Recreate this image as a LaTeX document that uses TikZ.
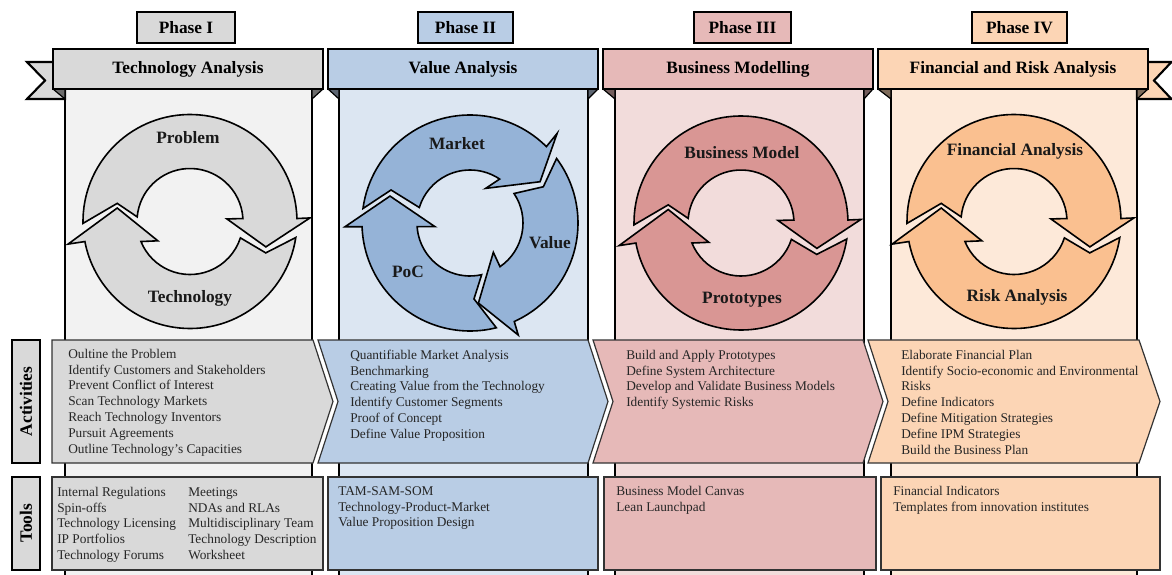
\documentclass[tikz,border=0pt]{standalone}
\usepackage{fontspec}
\setmainfont{Liberation Serif}
\definecolor{grayA}{HTML}{D9D9D9}
\definecolor{grayB}{HTML}{F2F2F2}
\definecolor{grayC}{HTML}{D9D9D9}
\definecolor{blueA}{HTML}{B9CDE5}
\definecolor{blueB}{HTML}{DCE6F2}
\definecolor{blueC}{HTML}{95B3D7}
\definecolor{redA}{HTML}{E6B9B8}
\definecolor{redB}{HTML}{F2DCDB}
\definecolor{redC}{HTML}{D99694}
\definecolor{orA}{HTML}{FCD5B5}
\definecolor{orB}{HTML}{FDE9D9}
\definecolor{orC}{HTML}{FAC090}
\tikzset{
  colline/.style={draw=black, line width=1.6pt},
  banner/.style={draw=black, line width=1.6pt, line join=miter},
  foldtri/.style={draw=black, line width=0.9pt, line join=round},
  phasebox/.style={draw=black, line width=2.2pt},
  cyc/.style={draw=black, line width=1.2pt, line join=miter},
  chev/.style={draw=black!80, line width=0.9pt, line join=miter},
  toolbox/.style={draw=black!80, line width=1pt},
  sidebox/.style={draw=black, line width=2.2pt, fill=grayA},
  hdr/.style={font=\fontsize{13}{15}\selectfont\bfseries, inner sep=0},
  cyclabel/.style={font=\fontsize{13}{15}\selectfont\bfseries, inner sep=0, text=black!90},
  list/.style={font=\fontsize{10}{11.85}\selectfont, align=left, anchor=north west, inner sep=0, text=black!85},
}
% two-arrow cycle: #1 centre, #2 fill
\newcommand{\twocycle}[2]{%
  \begin{scope}[shift={#1}, yscale=-1]
    \draw[cyc, fill=#2] (181:107) arc[start angle=181, end angle=1.6, radius=107]
      -- (1.7:120) -- (-18.5:80) -- (4:37) -- (3.2:53)
      arc[start angle=3.2, end angle=175, radius=53] -- (166:75) -- cycle;
    \draw[cyc, fill=#2] (-8.6:107) arc[start angle=-8.6, end angle=-169.2, radius=107]
      -- (-169.5:124) -- (-190.5:74) -- (-149:37.5) -- (-157.8:53)
      arc[start angle=-157.8, end angle=-18, radius=53] -- (-22.5:82) -- cycle;
  \end{scope}}
\begin{document}
\begin{tikzpicture}[x=0.75pt, y=-0.75pt]
\useasboundingbox (0,0) rectangle (1172,575);

% ---------- column backgrounds ----------
\fill[grayB] (65,89) rectangle (312,577);
\fill[blueB] (339,89) rectangle (588,577);
\fill[redB] (615,89) rectangle (864,577);
\fill[orB] (891,89) rectangle (1137,577);
\draw[colline] (65,89) -- (65,577) (312,89) -- (312,577);
\draw[colline] (339,89) -- (339,577) (588,89) -- (588,577);
\draw[colline] (615,89) -- (615,577) (864,89) -- (864,577);
\draw[colline] (891,89) -- (891,577) (1137,89) -- (1137,577);

% ---------- ribbon tails ----------
\draw[banner, fill=grayA] (53,62) -- (27,62) -- (45,80.5) -- (27,99) -- (65,99) -- (65,89);
\draw[banner, fill=orA] (1148,62) -- (1171.5,62) -- (1154,80.5) -- (1171.5,99) -- (1137,99) -- (1137,89);

% ---------- folds under the banners ----------
\draw[foldtri, fill=grayA!50!black] (53,89) -- (65,89) -- (65,99) -- cycle;
\draw[foldtri, fill=grayA!50!black] (323,89) -- (312,89) -- (312,99) -- cycle;
\draw[foldtri, fill=blueA!50!black] (328,89) -- (339,89) -- (339,99) -- cycle;
\draw[foldtri, fill=blueA!50!black] (598,89) -- (588,89) -- (588,99) -- cycle;
\draw[foldtri, fill=redA!50!black] (603,89) -- (615,89) -- (615,99) -- cycle;
\draw[foldtri, fill=redA!50!black] (873,89) -- (864,89) -- (864,99) -- cycle;
\draw[foldtri, fill=orA!50!black] (878,89) -- (891,89) -- (891,99) -- cycle;
\draw[foldtri, fill=orA!50!black] (1148,89) -- (1137,89) -- (1137,99) -- cycle;

% ---------- banners ----------
\draw[banner, fill=grayA] (53,49) rectangle (323,89);
\draw[banner, fill=blueA] (328,49) rectangle (598,89);
\draw[banner, fill=redA] (603,49) rectangle (873,89);
\draw[banner, fill=orA] (878,49) rectangle (1148,89);
\node[hdr] (h1) at (188,69) {Technology Analysis};
\node[hdr] (h2) at (463,69) {Value Analysis};
\node[hdr] (h3) at (738,69) {Business Modelling};
\node[hdr] (h4) at (1013,69) {Financial and Risk Analysis};

% ---------- phase boxes ----------
\draw[phasebox, fill=grayA] (137,12) rectangle (235,43);
\draw[phasebox, fill=blueA] (418,12) rectangle (513,43);
\draw[phasebox, fill=redA] (694,12) rectangle (791,43);
\draw[phasebox, fill=orA] (972,12) rectangle (1067,43);
\node[hdr] (p1) at (186,28) {Phase I};
\node[hdr] (p2) at (465.5,28) {Phase II};
\node[hdr] (p3) at (742.5,28) {Phase III};
\node[hdr] (p4) at (1019.5,28) {Phase IV};

% ---------- cycles ----------
\twocycle{(190,221.5)}{grayC}
\twocycle{(741,223)}{redC}
\twocycle{(1014,221.5)}{orC}
\begin{scope}[shift={(470,223)}, yscale=-1]
  \draw[cyc, fill=blueC] (172.3:108) arc[start angle=172.3, end angle=45, radius=108]
    -- (45.8:125) -- (30.5:81.3) -- (65.7:38) -- (56:53)
    arc[start angle=56, end angle=163, radius=53] -- (157.3:85.6) -- cycle;
  \draw[cyc, fill=blueC] (36.7:108) arc[start angle=36.7, end angle=-65.8, radius=108]
    -- (-66.7:122) -- (-84:80.5) -- (-51.5:37.5) -- (-55.5:53)
    arc[start angle=-55.5, end angle=33.8, radius=53] -- (26.3:81.8) -- cycle;
  \draw[cyc, fill=blueC] (-75.9:108) arc[start angle=-75.9, end angle=-178, radius=108]
    -- (-178.3:125) -- (-198.6:84.4) -- (-174:35.2) -- (-176:53)
    arc[start angle=-176, end angle=-77.3, radius=53] -- (-87:76) -- cycle;
\end{scope}
\node[cyclabel] (c1a) at (188,138) {Problem};
\node[cyclabel] (c1b) at (190,298) {Technology};
\node[cyclabel] (c2a) at (457,144) {Market};
\node[cyclabel] (c2b) at (550,243) {Value};
\node[cyclabel] (c2c) at (408,272) {PoC};
\node[cyclabel] (c3a) at (742,153) {Business Model};
\node[cyclabel] (c3b) at (742,300) {Prototypes};
\node[cyclabel] (c4a) at (1015,151) {Financial Analysis};
\node[cyclabel] (c4b) at (1017,297) {Risk Analysis};

% ---------- activities ----------
\draw[chev, fill=grayA] (52,340) -- (313,340) -- (333,401.5) -- (313,463) -- (52,463) -- cycle;
\draw[chev, fill=blueA] (318,340) -- (588,340) -- (608,401.5) -- (588,463) -- (318,463) -- (338,401.5) -- cycle;
\draw[chev, fill=redA] (593,340) -- (863,340) -- (883,401.5) -- (863,463) -- (593,463) -- (613,401.5) -- cycle;
\draw[chev, fill=orA] (868,340) -- (1139,340) -- (1160,401.5) -- (1139,463) -- (868,463) -- (888,401.5) -- cycle;
\node[list] (a1) at (68,347) {\strut Oultine the Problem\\Identify Customers and Stakeholders\\Prevent Conflict of Interest\\Scan Technology Markets\\Reach Technology Inventors\\Pursuit Agreements\\Outline Technology’s Capacities};
\node[list] (a2) at (350,348) {\strut Quantifiable Market Analysis\\Benchmarking\\Creating Value from the Technology\\Identify Customer Segments\\Proof of Concept\\Define Value Proposition};
\node[list] (a3) at (626,348) {\strut Build and Apply Prototypes\\Define System Architecture\\Develop and Validate Business Models\\Identify Systemic Risks};
\node[list] (a4) at (901,348) {\strut Elaborate Financial Plan\\Identify Socio-economic and Environmental\\Risks\\Define Indicators\\Define Mitigation Strategies\\Define IPM Strategies\\Build the Business Plan};

% ---------- tools ----------
\draw[toolbox, fill=grayA] (52,477) rectangle (323,570);
\draw[toolbox, fill=blueA] (328,477) rectangle (598,570);
\draw[toolbox, fill=redA] (604,477) rectangle (876,570);
\draw[toolbox, fill=orA] (881,477) rectangle (1160,570);
\node[list] (t1a) at (57,485) {\strut Internal Regulations\\Spin-offs\\Technology Licensing\\IP Portfolios\\Technology Forums};
\node[list] (t1b) at (188,485) {\strut Meetings\\NDAs and RLAs\\Multidisciplinary Team\\Technology Description\\Worksheet};
\node[list] (t2) at (338,484) {\strut TAM-SAM-SOM\\Technology-Product-Market\\Value Proposition Design};
\node[list] (t3) at (616,484) {\strut Business Model Canvas\\Lean Launchpad};
\node[list] (t4) at (893,484) {\strut Financial Indicators\\Templates from innovation institutes};

% ---------- row labels ----------
\draw[sidebox] (12,340) rectangle (40,463);
\draw[sidebox] (12,477) rectangle (40,570);
\node[hdr, rotate=90] (lact) at (26,401.5) {Activities};
\node[hdr, rotate=90] (ltool) at (26,523.5) {Tools};
\end{tikzpicture}
\end{document}
